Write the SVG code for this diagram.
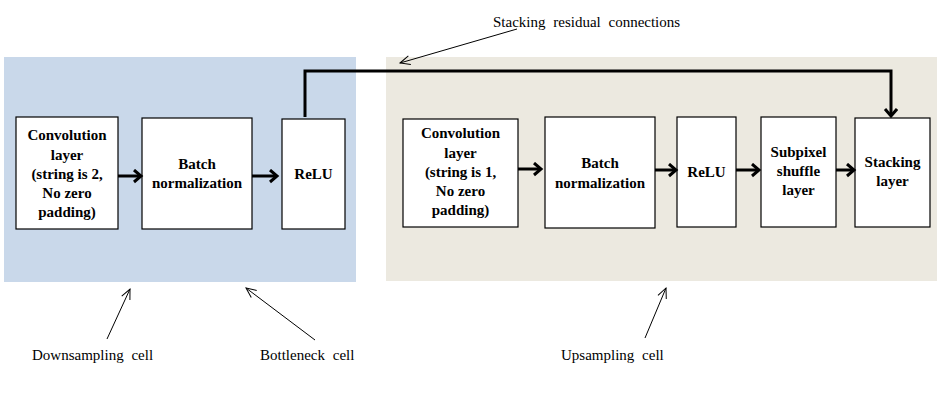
<svg xmlns="http://www.w3.org/2000/svg" width="941" height="408" viewBox="0 0 941 408">
<defs>
<style>
.box{fill:#fff;stroke:#000;stroke-width:1.2}
.bt{font-family:"Liberation Serif","Times New Roman",serif;font-weight:bold;font-size:15px;fill:#000;text-anchor:middle}
.lab{font-family:"Liberation Serif","Times New Roman",serif;font-size:15px;fill:#000;word-spacing:4px}
.thick{fill:none;stroke:#000;stroke-width:3;marker-end:url(#ah)}
.thin{fill:none;stroke:#000;stroke-width:1;marker-end:url(#oh)}
</style>
<marker id="ah" markerUnits="userSpaceOnUse" markerWidth="14" markerHeight="16" refX="9" refY="7" orient="auto" viewBox="0 0 14 16">
<path d="M2,1 L9,7 L2,13" fill="none" stroke="#000" stroke-width="3"/>
</marker>
<marker id="oh" markerUnits="userSpaceOnUse" markerWidth="14" markerHeight="14" refX="12" refY="7" orient="auto" viewBox="0 0 14 14">
<path d="M2,2.5 L12,7 L2,11.5" fill="none" stroke="#000" stroke-width="1"/>
</marker>
</defs>
<rect width="941" height="408" fill="#fff"/>
<rect id="downsampling-panel" x="4" y="57" width="352" height="225" fill="#C9D8EA"/>
<rect id="upsampling-panel" x="386" y="57" width="551" height="224" fill="#ECE9E0"/>

<g id="conv1">
<rect class="box" x="16" y="117" width="102" height="112"/>
<text class="bt" x="67" y="140">Convolution</text>
<text class="bt" x="67" y="160">layer</text>
<text class="bt" x="67" y="179">(string is 2,</text>
<text class="bt" x="67" y="198">No zero</text>
<text class="bt" x="67" y="217">padding)</text>
</g>
<g id="batch1">
<rect class="box" x="142" y="118" width="110" height="111"/>
<text class="bt" x="197" y="169">Batch</text>
<text class="bt" x="197" y="188">normalization</text>
</g>
<g id="relu1">
<rect class="box" x="282" y="119" width="63" height="110"/>
<text class="bt" x="313.5" y="179">ReLU</text>
</g>
<g id="conv2">
<rect class="box" x="403" y="119" width="115" height="108"/>
<text class="bt" x="460.5" y="138">Convolution</text>
<text class="bt" x="460.5" y="158">layer</text>
<text class="bt" x="460.5" y="177">(string is 1,</text>
<text class="bt" x="460.5" y="196">No zero</text>
<text class="bt" x="460.5" y="215">padding)</text>
</g>
<g id="batch2">
<rect class="box" x="545" y="117" width="110" height="111"/>
<text class="bt" x="600" y="168">Batch</text>
<text class="bt" x="600" y="188">normalization</text>
</g>
<g id="relu2">
<rect class="box" x="677" y="117" width="59" height="110"/>
<text class="bt" x="706.5" y="177">ReLU</text>
</g>
<g id="subpixel">
<rect class="box" x="761" y="117" width="75" height="110"/>
<text class="bt" x="798.5" y="157">Subpixel</text>
<text class="bt" x="798.5" y="176">shuffle</text>
<text class="bt" x="798.5" y="195">layer</text>
</g>
<g id="stacking">
<rect class="box" x="855" y="118" width="75" height="109"/>
<text class="bt" x="892.5" y="167">Stacking</text>
<text class="bt" x="892.5" y="186">layer</text>
</g>

<g id="connectors">
<line class="thick" x1="118" y1="176" x2="141" y2="176"/>
<line class="thick" x1="252" y1="176" x2="277" y2="176"/>
<line class="thick" x1="518" y1="169" x2="541" y2="169"/>
<line class="thick" x1="655" y1="170" x2="676" y2="170"/>
<line class="thick" x1="736" y1="170" x2="759" y2="170"/>
<line class="thick" x1="836" y1="170" x2="854" y2="170"/>
<path class="thick" d="M305,117 V71 H891 V116"/>
<line class="thin" x1="517" y1="29" x2="400" y2="63"/>
<line class="thin" x1="107" y1="339" x2="130" y2="289"/>
<line class="thin" x1="315" y1="340" x2="246" y2="288"/>
<line class="thin" x1="645" y1="338" x2="666" y2="288"/>
</g>

<g id="labels">
<text class="lab" x="493" y="27">Stacking residual connections</text>
<text class="lab" x="32" y="360">Downsampling cell</text>
<text class="lab" x="260" y="360">Bottleneck cell</text>
<text class="lab" x="561" y="360">Upsampling cell</text>
</g>
</svg>
